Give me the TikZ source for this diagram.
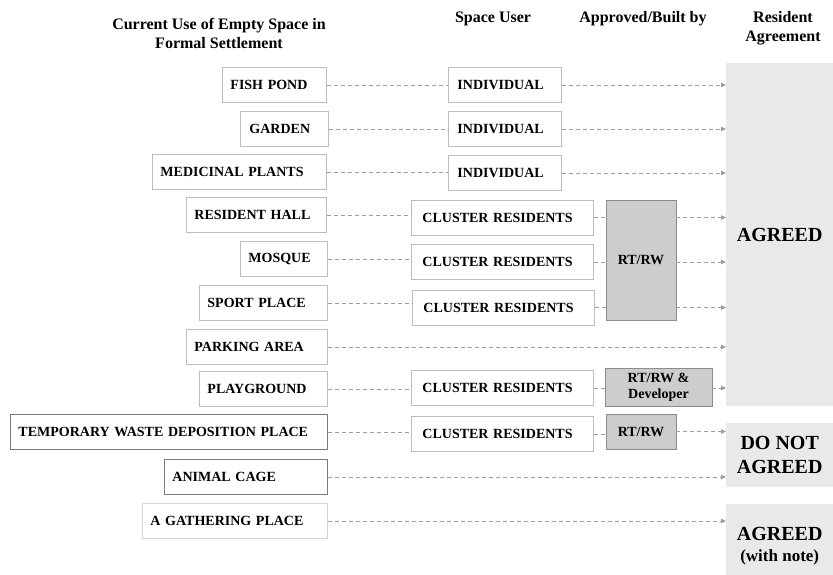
\documentclass[tikz,border=0pt]{standalone}
\usepackage{fontspec}
\setmainfont{Liberation Serif}
\usetikzlibrary{arrows.meta}
\definecolor{boxgray}{HTML}{BDBDBD}
\definecolor{darkbox}{HTML}{7A7A7A}
\definecolor{lightbox}{HTML}{D4D4D4}
\definecolor{linegray}{HTML}{9E9E9E}
\definecolor{rtfill}{HTML}{CDCDCD}
\definecolor{rtdraw}{HTML}{8C8C8C}
\definecolor{agrfill}{HTML}{E9E9E9}
\begin{document}
\begin{tikzpicture}[x=1pt,y=-1pt,
  bx/.style={draw=boxgray, line width=0.9pt, minimum height=35pt, inner xsep=8pt, inner ysep=0pt,
    align=left, anchor=west, font=\bfseries\fontsize{14}{16}\selectfont},
  rtbox/.style={draw=rtdraw, fill=rtfill, line width=0.9pt, inner sep=0pt, align=center,
    font=\bfseries\fontsize{14}{16}\selectfont},
  agr/.style={fill=agrfill, inner sep=0pt, minimum width=107pt, align=center, anchor=north west,
    font=\bfseries\fontsize{20}{24}\selectfont},
  hdr/.style={align=center, font=\bfseries\fontsize{16}{19}\selectfont},
  dl/.style={draw=linegray, line width=0.8pt, dash pattern=on 4pt off 3pt},
  da/.style={dl, -{Triangle[length=5pt,width=4.5pt,fill=linegray]}}]
\useasboundingbox (0,0) rectangle (833,574);

% headers
\node[hdr] (h1) at (219,33) {Current Use of Empty Space in\\Formal Settlement};
\node[hdr] (h2) at (493,19) {Space User};
\node[hdr] (h3) at (643,19) {Approved/Built by};
\node[hdr] (h4) at (783,28) {Resident\\Agreement};

% agreement regions
\node[agr, minimum height=343pt] (agr1) at (726,63) {AGREED};
\node[agr, minimum height=64pt] (agr2) at (726,423) {DO NOT\\AGREED};
\node[agr, minimum height=84pt] (agr3) at (726,504) {AGREED\\[-3pt]{\fontsize{17}{20}\selectfont(with note)}};

% left column
\node[bx, text width=88pt] (fish) at (222,85) {FISH POND};
\node[bx, text width=70pt, inner xsep=9pt] (garden) at (240,129) {GARDEN};
\node[bx, text width=158pt] (med) at (152,172) {MEDICINAL PLANTS};
\node[bx, text width=124pt] (hall) at (186,215) {RESIDENT HALL};
\node[bx, text width=71pt] (mosque) at (240,259) {MOSQUE};
\node[bx, text width=112pt] (sport) at (199,303) {SPORT PLACE};
\node[bx, text width=125pt] (park) at (186,347) {PARKING AREA};
\node[bx, text width=112pt] (play) at (199,389) {PLAYGROUND};
\node[bx, text width=301pt, draw=darkbox] (waste) at (10,432) {TEMPORARY WASTE DEPOSITION PLACE};
\node[bx, text width=147pt, draw=darkbox] (cage) at (164,477) {ANIMAL CAGE};
\node[bx, text width=169pt, draw=lightbox] (gather) at (142,521) {A GATHERING PLACE};

% space user
\node[bx, text width=95pt, inner xsep=9pt] (ind1) at (448,85) {INDIVIDUAL};
\node[bx, text width=95pt, inner xsep=9pt] (ind2) at (448,129) {INDIVIDUAL};
\node[bx, text width=95pt, inner xsep=9pt] (ind3) at (448,173) {INDIVIDUAL};
\node[bx, text width=160pt, inner xsep=11pt] (cl1) at (411,217.5) {CLUSTER RESIDENTS};
\node[bx, text width=160pt, inner xsep=11pt] (cl2) at (411,262) {CLUSTER RESIDENTS};
\node[bx, text width=160pt, inner xsep=11pt] (cl3) at (412,307.5) {CLUSTER RESIDENTS};
\node[bx, text width=160pt, inner xsep=11pt] (cl4) at (411,388) {CLUSTER RESIDENTS};
\node[bx, text width=160pt, inner xsep=11pt] (cl5) at (411,434) {CLUSTER RESIDENTS};

% approved / built by
\node[rtbox, minimum width=70pt, minimum height=120pt] (rt1) at (641,260) {RT/RW};
\node[rtbox, minimum width=107pt, minimum height=38pt] (rt2) at (658.5,387) {RT/RW \&\\Developer};
\node[rtbox, minimum width=70pt, minimum height=35pt] (rt3) at (641,431.5) {RT/RW};

% connectors
\foreach \a/\b in {fish/ind1, garden/ind2, med/ind3, hall/cl1, mosque/cl2, sport/cl3, play/cl4, waste/cl5}
  \draw[dl] (\a.east) -- (\a.east -| \b.west);
\foreach \b in {ind1, ind2, ind3}
  \draw[da] (\b.east) -- (\b.east -| agr1.west);
\foreach \b in {cl1, cl2, cl3} {
  \draw[dl] (\b.east) -- (\b.east -| rt1.west);
  \draw[da] (\b.east -| rt1.east) -- (\b.east -| agr1.west);
}
\draw[da] (park.east) -- (park.east -| agr1.west);
\draw[dl] (cl4.east) -- (cl4.east -| rt2.west);
\draw[da] (cl4.east -| rt2.east) -- (cl4.east -| agr1.west);
\draw[dl] (cl5.east) -- (cl5.east -| rt3.west);
\draw[da] (rt3.east) -- (rt3.east -| agr2.west);
\draw[da] (cage.east) -- (cage.east -| agr2.west);
\draw[da] (gather.east) -- (gather.east -| agr3.west);
\end{tikzpicture}
\end{document}
